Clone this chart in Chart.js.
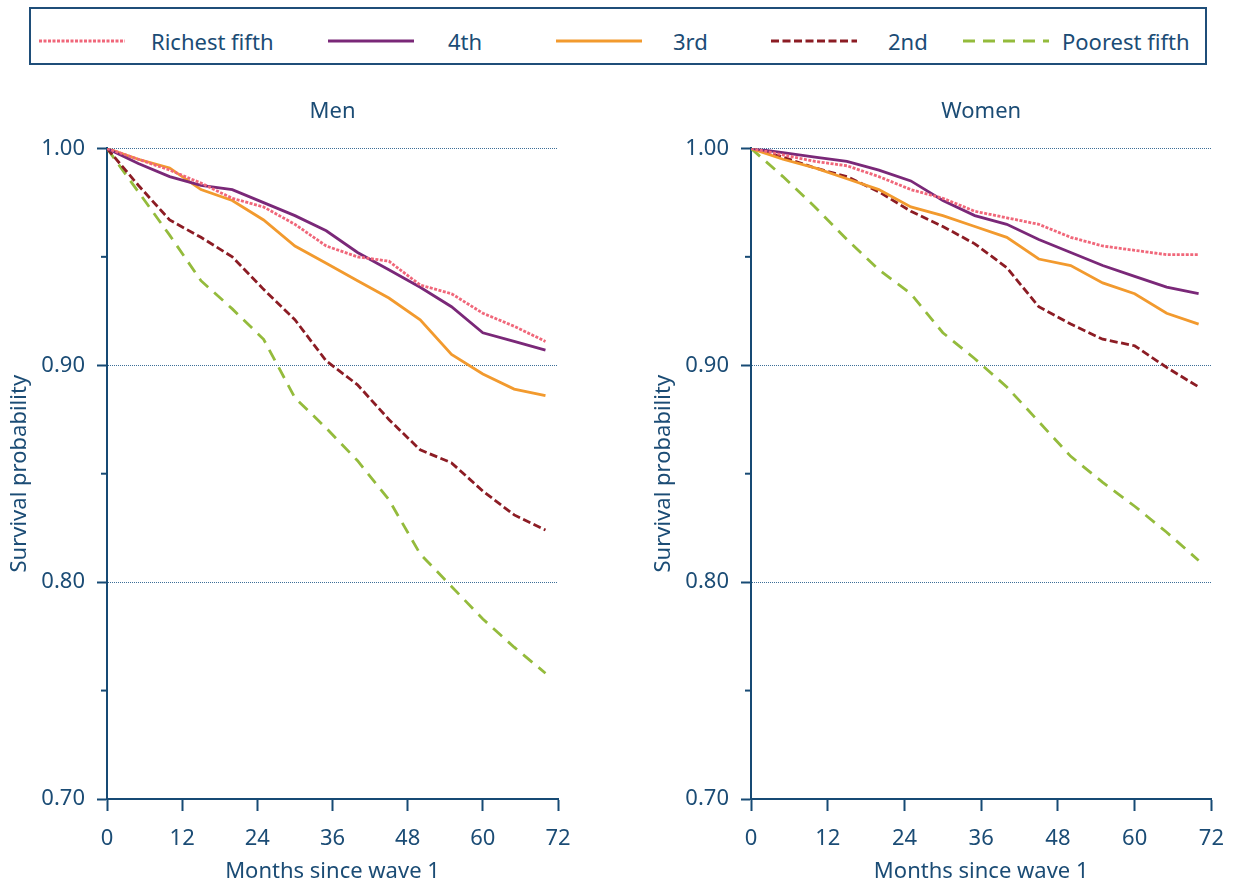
<!DOCTYPE html>
<html>
<head>
<meta charset="utf-8">
<script src="https://cdn.jsdelivr.net/npm/chart.js@4.4.0/dist/chart.umd.min.js"></script>
<style>
    body {
        margin: 0;
        width: 1239px;
        height: 887px;
        background: #fff;
        position: relative;
        overflow: hidden;
        font-family: 'Noto Sans', sans-serif;
        color: #1b4c75;
    }
    #legend {
        position: absolute;
        left: 29px;
        top: 7px;
        width: 1174px;
        height: 54px;
        border: 2px solid #1f4e79;
    }
    #legend .swatch, #legend .label {
        position: absolute;
        top: 5px;
        height: 54px;
        display: flex;
        align-items: center;
        font-size: 22px;
    }
    .chart-box {
        position: absolute;
        top: 80px;
    }
    #menBox { left: 0; }
    #womenBox { left: 644px; }
</style>
</head>
<body>
<div id="legend"></div>
<div class="chart-box" id="menBox"><canvas id="menChart" width="600" height="807"></canvas></div>
<div class="chart-box" id="womenBox"><canvas id="womenChart" width="595" height="807"></canvas></div>
<script>
// Data
const months = [0, 5, 10, 15, 20, 25, 30, 35, 40, 45, 50, 55, 60, 65, 70];
const xTicks = [0, 12, 24, 36, 48, 60, 72];
const yTicks = [0.70, 0.80, 0.90, 1.00];
const yMinorTicks = [0.75, 0.85, 0.95];
const seriesNames = ['Richest fifth', '4th', '3rd', '2nd', 'Poorest fifth'];

const menRichest = [1.000, 0.995, 0.990, 0.984, 0.977, 0.973, 0.965, 0.955, 0.950, 0.948, 0.937, 0.933, 0.924, 0.918, 0.911];
const men4th     = [1.000, 0.993, 0.987, 0.983, 0.981, 0.975, 0.969, 0.962, 0.952, 0.944, 0.936, 0.927, 0.915, 0.911, 0.907];
const men3rd     = [1.000, 0.995, 0.991, 0.981, 0.976, 0.967, 0.955, 0.947, 0.939, 0.931, 0.921, 0.905, 0.896, 0.889, 0.886];
const men2nd     = [1.000, 0.983, 0.967, 0.959, 0.950, 0.935, 0.921, 0.902, 0.891, 0.875, 0.861, 0.855, 0.842, 0.831, 0.824];
const menPoorest = [1.000, 0.980, 0.960, 0.939, 0.926, 0.912, 0.885, 0.871, 0.856, 0.838, 0.813, 0.798, 0.783, 0.770, 0.758];

const womenRichest = [1.000, 0.997, 0.994, 0.992, 0.987, 0.981, 0.977, 0.971, 0.968, 0.965, 0.959, 0.955, 0.953, 0.951, 0.951];
const women4th     = [1.000, 0.998, 0.996, 0.994, 0.990, 0.985, 0.976, 0.969, 0.965, 0.958, 0.952, 0.946, 0.941, 0.936, 0.933];
const women3rd     = [1.000, 0.995, 0.991, 0.986, 0.981, 0.973, 0.969, 0.964, 0.959, 0.949, 0.946, 0.938, 0.933, 0.924, 0.919];
const women2nd     = [1.000, 0.996, 0.991, 0.987, 0.980, 0.971, 0.964, 0.956, 0.945, 0.927, 0.919, 0.912, 0.909, 0.899, 0.890];
const womenPoorest = [1.000, 0.987, 0.973, 0.958, 0.944, 0.933, 0.915, 0.903, 0.890, 0.874, 0.858, 0.846, 0.835, 0.823, 0.810];

// Styles
const seriesColors = ['#f0677a', '#7a2878', '#f29a2e', '#8c1c24', '#94bb3c'];
const seriesDashes = [[3, 1.5], [], [], [8, 3.5], [12, 8]];
const textColor = '#1b4c75';
const axisColor = '#174a74';
const fontFamily = "'Noto Sans', sans-serif";
const fontSize = 22;

// legend: left offsets (inside the box) of each line sample and its label
const legendLineX = [8, 297, 525, 740, 932];
const legendTextX = [120, 417, 642, 857, 1031];

const legendEl = document.getElementById('legend');
seriesNames.forEach((name, i) => {
    const sw = document.createElement('div');
    sw.className = 'swatch';
    sw.style.left = legendLineX[i] + 'px';
    sw.innerHTML = '<svg width="86" height="6"><line x1="0" y1="3" x2="86" y2="3" stroke="' +
        seriesColors[i] + '" stroke-width="3" stroke-dasharray="' +
        (seriesDashes[i].length ? seriesDashes[i].join(' ') : 'none') + '"/></svg>';
    legendEl.appendChild(sw);
    const lb = document.createElement('div');
    lb.className = 'label';
    lb.style.left = legendTextX[i] + 'px';
    lb.textContent = name;
    legendEl.appendChild(lb);
});

// small minor ticks on the y axis (0.95, 0.85, 0.75)
const minorTicks = {
    id: 'minorTicks',
    afterDraw(chart) {
        const y = chart.scales.y;
        const ctx = chart.ctx;
        ctx.save();
        ctx.strokeStyle = axisColor;
        ctx.lineWidth = 2;
        yMinorTicks.forEach(v => {
            const py = y.getPixelForValue(v);
            ctx.beginPath();
            ctx.moveTo(y.right - 6, py);
            ctx.lineTo(y.right, py);
            ctx.stroke();
        });
        ctx.restore();
    }
};

function makeChart(id, title, values, padRight) {
    const datasets = values.map((vals, i) => ({
        label: seriesNames[i],
        data: months.map((m, k) => ({ x: m, y: vals[k] })),
        borderColor: seriesColors[i],
        borderDash: seriesDashes[i],
        borderWidth: 2.8,
        borderCapStyle: 'butt',
        pointRadius: 0,
        tension: 0,
        fill: false
    }));

    return new Chart(document.getElementById(id), {
        type: 'line',
        data: { datasets: datasets },
        plugins: [minorTicks],
        options: {
            responsive: false,
            animation: false,
            devicePixelRatio: 1,
            layout: { padding: { left: 0, right: padRight, top: 0, bottom: 0 } },
            plugins: {
                legend: { display: false },
                tooltip: { enabled: false },
                title: {
                    display: true,
                    fullSize: false,
                    text: title,
                    color: textColor,
                    font: { family: fontFamily, size: fontSize, weight: 'normal' },
                    padding: { top: 19, bottom: 23 }
                }
            },
            scales: {
                x: {
                    type: 'linear',
                    min: 0,
                    max: 72,
                    afterBuildTicks: s => { s.ticks = xTicks.map(v => ({ value: v })); },
                    afterFit: s => { s.height = 88; },
                    ticks: {
                        color: textColor,
                        font: { family: fontFamily, size: fontSize },
                        padding: 15,
                        maxRotation: 0,
                        autoSkip: false
                    },
                    grid: {
                        drawOnChartArea: false,
                        tickLength: 12,
                        tickColor: axisColor,
                        tickWidth: 2
                    },
                    border: { color: axisColor, width: 2 },
                    title: {
                        display: true,
                        text: 'Months since wave 1',
                        color: textColor,
                        font: { family: fontFamily, size: fontSize },
                        padding: { top: 0, bottom: 2 }
                    }
                },
                y: {
                    min: 0.7,
                    max: 1.0,
                    afterBuildTicks: s => { s.ticks = yTicks.map(v => ({ value: v })); },
                    afterFit: s => { s.width = 107; },
                    ticks: {
                        color: textColor,
                        font: { family: fontFamily, size: fontSize },
                        padding: 12,
                        callback: v => v.toFixed(2)
                    },
                    grid: {
                        color: c => (c.tick && c.tick.value > 0.71) ? '#3d6f98' : 'rgba(0,0,0,0)',
                        lineWidth: 1,
                        tickLength: 10,
                        tickColor: axisColor,
                        tickWidth: 2
                    },
                    border: { color: axisColor, width: 2, dash: [1, 1] },
                    title: {
                        display: true,
                        text: 'Survival probability',
                        color: textColor,
                        font: { family: fontFamily, size: fontSize },
                        padding: { top: 7, bottom: 0 }
                    }
                }
            }
        }
    });
}

makeChart('menChart', 'Men', [menRichest, men4th, men3rd, men2nd, menPoorest], 42);
makeChart('womenChart', 'Women', [womenRichest, women4th, women3rd, women2nd, womenPoorest], 22);
</script>
</body>
</html>
